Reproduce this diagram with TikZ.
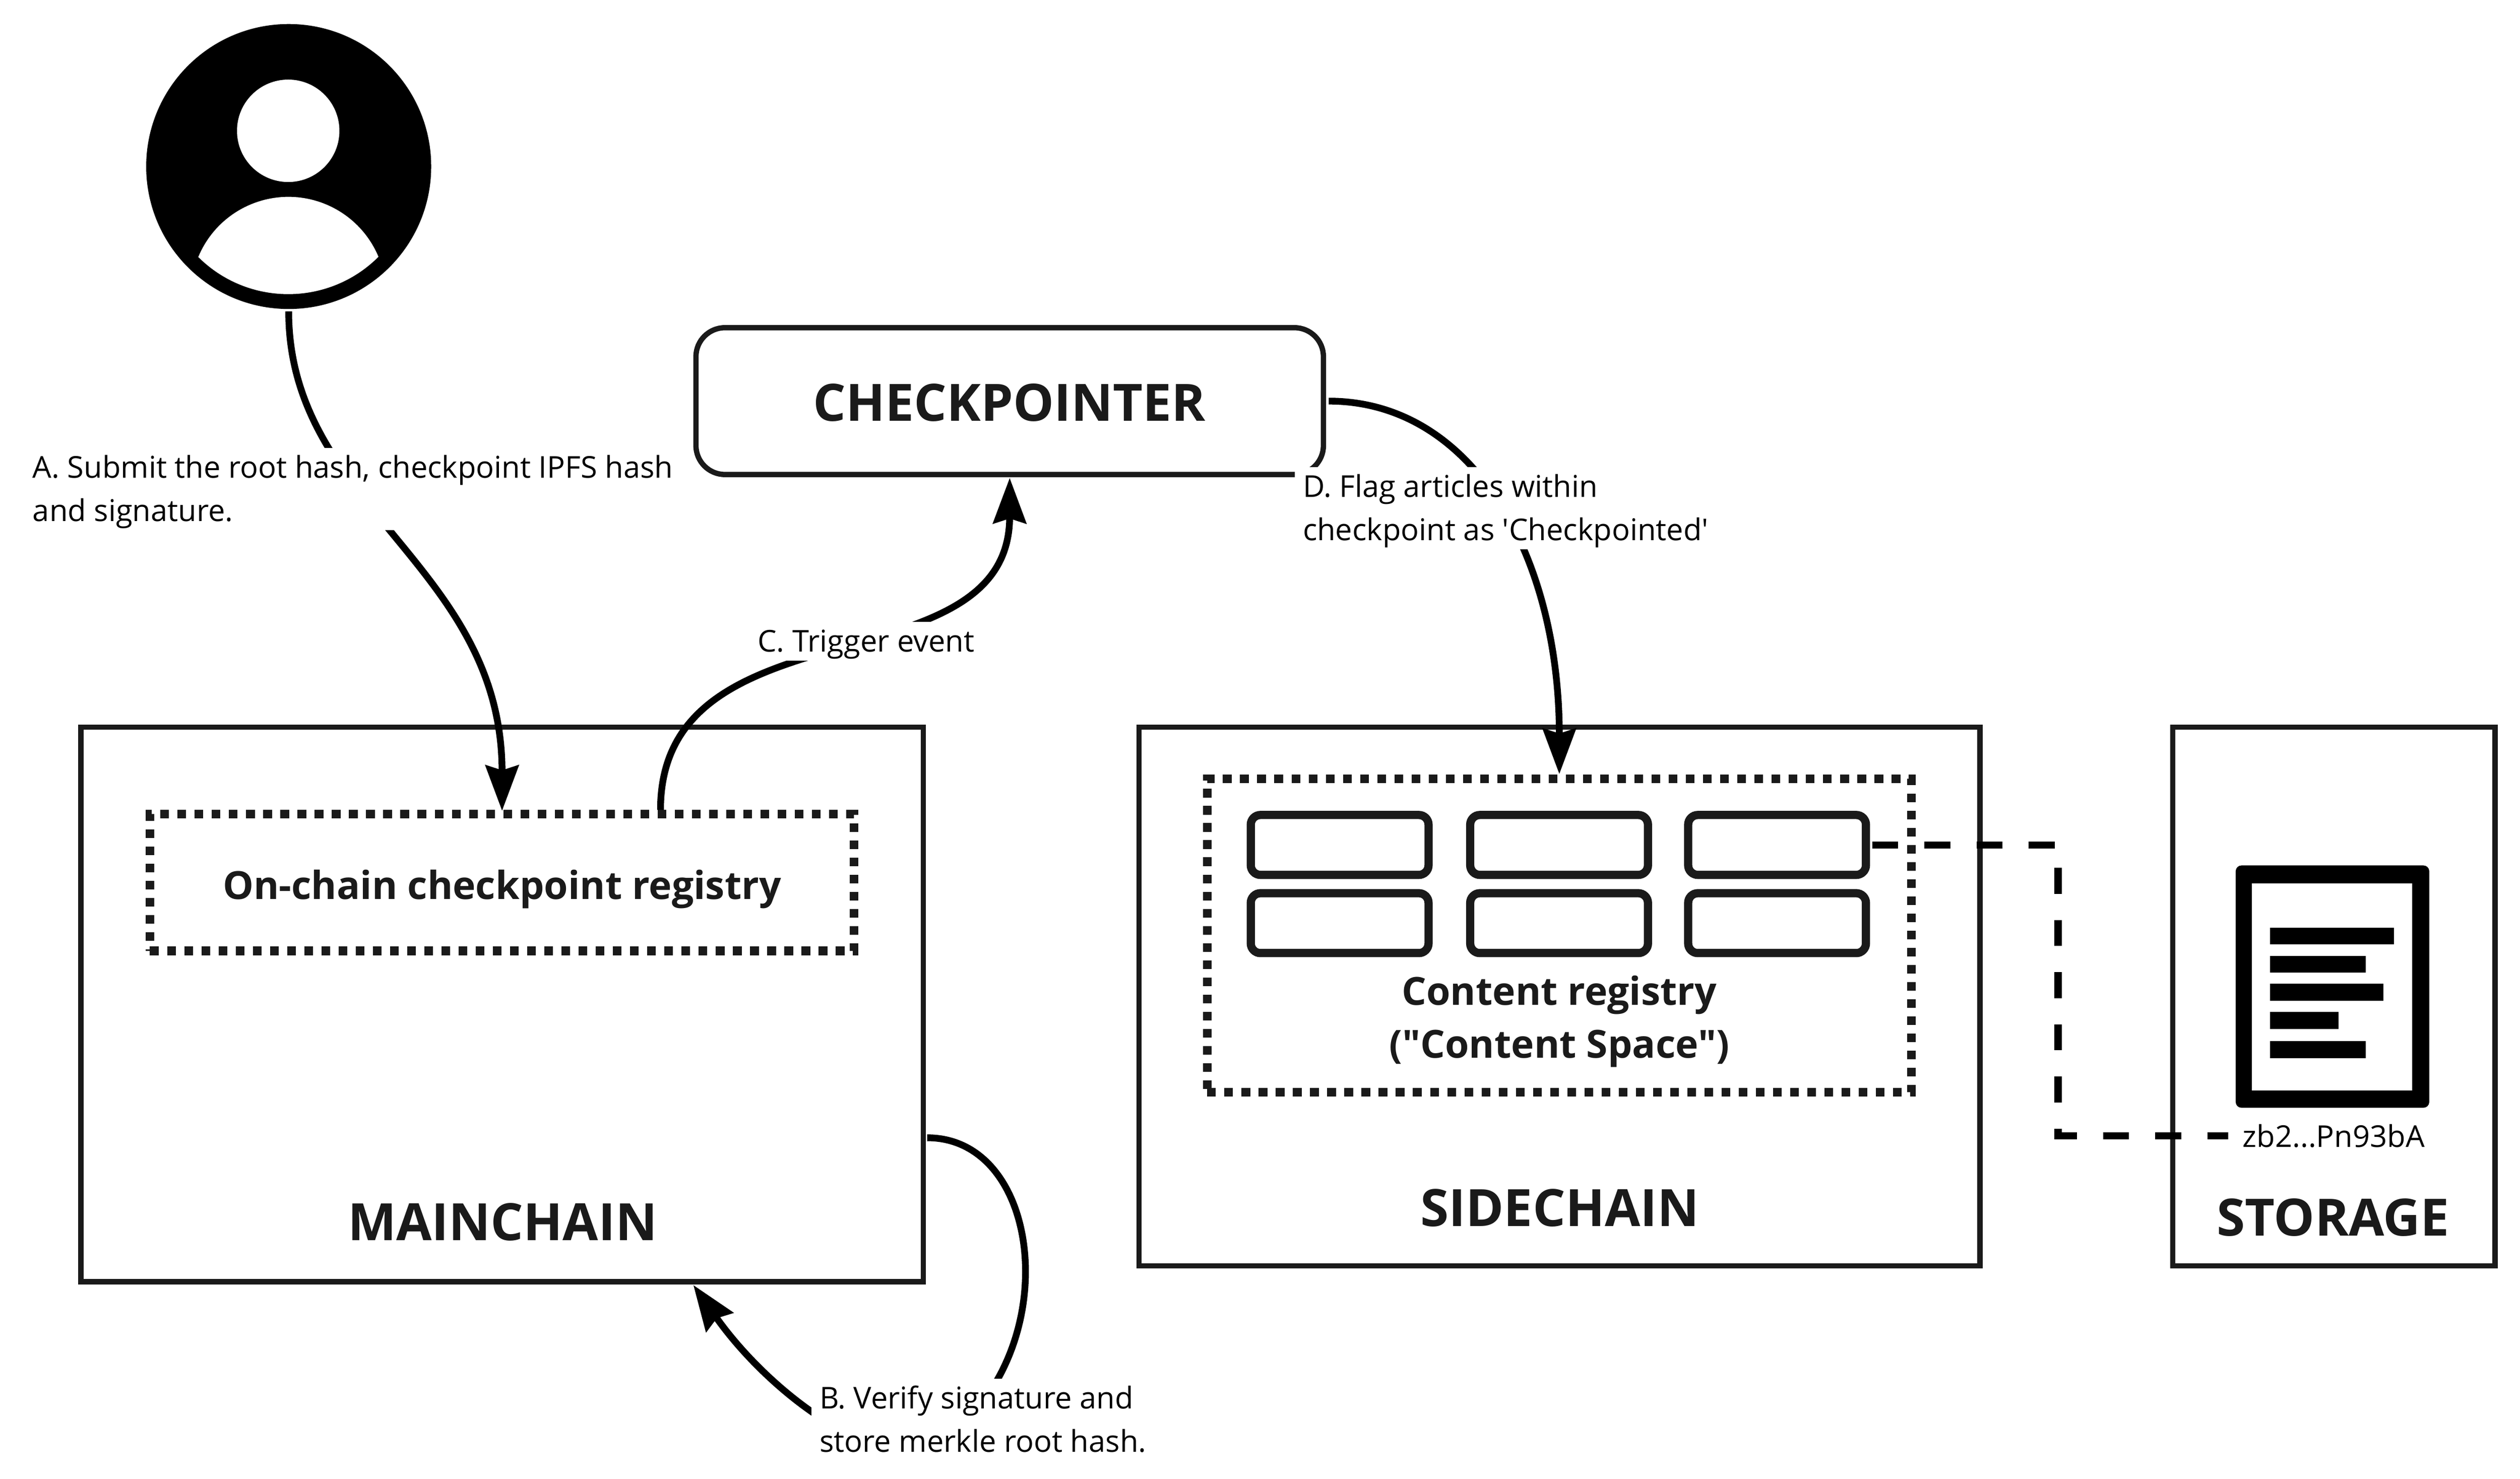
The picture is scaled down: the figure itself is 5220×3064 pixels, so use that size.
\documentclass[tikz,border=0pt]{standalone}
\usepackage{fontspec}
\setmainfont{Open Sans}[Ligatures=TeXOff]
\usetikzlibrary{arrows.meta}
\definecolor{ink}{HTML}{1A1A1A}
\newcommand{\topgap}{\rule{0pt}{0.59cm}}
\newcommand{\botgap}{\rule[-0.15cm]{0pt}{0.15cm}}
\tikzset{
  x=0.01cm, y=-0.01cm,
  panel/.style={draw=ink, line width=0.11cm, fill=white, inner sep=0pt, outer sep=0pt},
  pill/.style={panel, rounded corners=0.6cm},
  cell/.style={draw=ink, line width=0.17cm, fill=white, rounded corners=0.2cm, inner sep=0pt, outer sep=0pt, minimum width=3.68cm, minimum height=1.24cm},
  dotbox/.style={draw=ink, line width=0.18cm, dash pattern=on 0.18cm off 0.175cm, inner sep=0pt, outer sep=0pt},
  flow/.style={draw=black, line width=0.14cm, -{Stealth[length=0.94cm,width=0.68cm,inset=0.1cm]}},
  plainflow/.style={draw=black, line width=0.14cm},
  linkdash/.style={draw=black, line width=0.15cm, dash pattern=on 0.54cm off 0.54cm},
  title/.style={font=\bfseries\fontsize{30.3pt}{36pt}\selectfont, text=ink, inner sep=0pt},
  sub/.style={font=\bfseries\fontsize{22.8pt}{31.2pt}\selectfont, text=ink, inner sep=0pt, align=center},
  note/.style={font=\fontsize{17.7pt}{25.5pt}\selectfont, text=black, fill=white, inner xsep=0.17cm, inner ysep=0.03cm, align=left},
}
\begin{document}
\begin{tikzpicture}
\path[fill=white,use as bounding box] (0,0) rectangle (5220,3064);
% boxes
\node[panel, minimum width=17.44cm, minimum height=11.48cm] (main) at (1040,2081) {};
\node[panel, minimum width=17.41cm, minimum height=11.15cm] (side) at (3230.5,2064.5) {};
\node[panel, minimum width=6.67cm, minimum height=11.15cm] (store) at (4834.5,2064.5) {};
\node[pill, minimum width=12.99cm, minimum height=3.04cm] (check) at (2091.5,831) {};
\node[dotbox, minimum width=14.58cm, minimum height=2.83cm] (reg) at (1040,1828.5) {};
\node[dotbox, minimum width=14.58cm, minimum height=6.49cm] (content) at (3230,1938.5) {};
% user icon
\node[circle, fill=black, minimum size=5.9cm, inner sep=0pt, outer sep=0pt] (user) at (598,345) {};
\node[circle, fill=white, minimum size=2.12cm, inner sep=0pt] (head) at (597,271) {};
\fill[white] (411,532) arc[start angle=157.3, end angle=22.7, radius=2.02cm]
  arc[start angle=315, end angle=225, radius=2.64cm] -- cycle;
% cells
\node[cell] (c1) at (2775,1750.5) {};
\node[cell] (c2) at (3229.5,1750.5) {};
\node[cell] (c3) at (3681,1750.5) {};
\node[cell] (c4) at (2775,1912.5) {};
\node[cell] (c5) at (3229.5,1912.5) {};
\node[cell] (c6) at (3681,1912.5) {};
% document icon
\fill[black, rounded corners=0.12cm] (4631,1793) rectangle (5032,2295);
\fill[white] (4665,1830) rectangle (4997,2259);
\fill[black] (4702,1922) rectangle (4959,1956);
\fill[black] (4702,1980) rectangle (4901,2015);
\fill[black] (4702,2038) rectangle (4937,2073);
\fill[black] (4702,2096) rectangle (4844,2132);
\fill[black] (4702,2157) rectangle (4901,2192);
% titles
\node[title] (tmain) at (1041,2532) {MAINCHAIN};
\node[title] (tcheck) at (2091,834) {CHECKPOINTER};
\node[title] (tside) at (3231,2502) {SIDECHAIN};
\node[title] (tstore) at (4833,2522) {STORAGE};
\node[sub] (treg) at (1040,1842) {On-chain checkpoint registry};
\node[sub] (tcontent) at (3230,2116) {Content registry\\("Content Space")};
\node[font=\fontsize{17.7pt}{20pt}\selectfont, inner sep=0.1cm, text=black] (hash) at (4834,2353) {zb2...Pn93bA};
% connectors
\coordinate (bmid) at (1930,3000);
\coordinate (bend) at (4263,2353);
\draw[flow] ([yshift=-0.05cm]user.south) .. controls (598,1050) and (1040,1170) .. ([yshift=0.07cm]reg.north);
\draw[flow] ([xshift=3.28cm,yshift=0.09cm]reg.north) .. controls (1368,1240) and (2091,1430) .. ([yshift=-0.07cm]check.south);
\draw[flow] ([xshift=0.11cm]check.east) .. controls (3050,831) and (3230,1150) .. ([yshift=0.1cm]content.north);
\draw[plainflow] ([xshift=0.08cm,yshift=-2.76cm]main.east) .. controls (2170,2357) and (2210,2830) .. (bmid);
\draw[flow] (bmid) .. controls (1800,3040) and (1590,2880) .. ([xshift=3.96cm,yshift=-0.07cm]main.south);
\draw[linkdash] ([xshift=0.13cm]c3.east) -| (bend) -- ([xshift=-0.19cm]hash.west);
% labels
\node[note, anchor=west] (la) at (50,1013) {\topgap A. Submit the root hash, checkpoint IPFS hash\\and signature.\botgap};
\node[note, anchor=west] (lb) at (1680,2941) {\topgap B. Verify signature and\\store merkle root hash.\botgap};
\node[note, anchor=center] (lc) at (1794,1328.5) {\topgap C. Trigger event\botgap};
\node[note, anchor=west] (ld) at (2681,1053) {\topgap D. Flag articles within\\checkpoint as 'Checkpointed'\botgap};
\end{tikzpicture}
\end{document}
